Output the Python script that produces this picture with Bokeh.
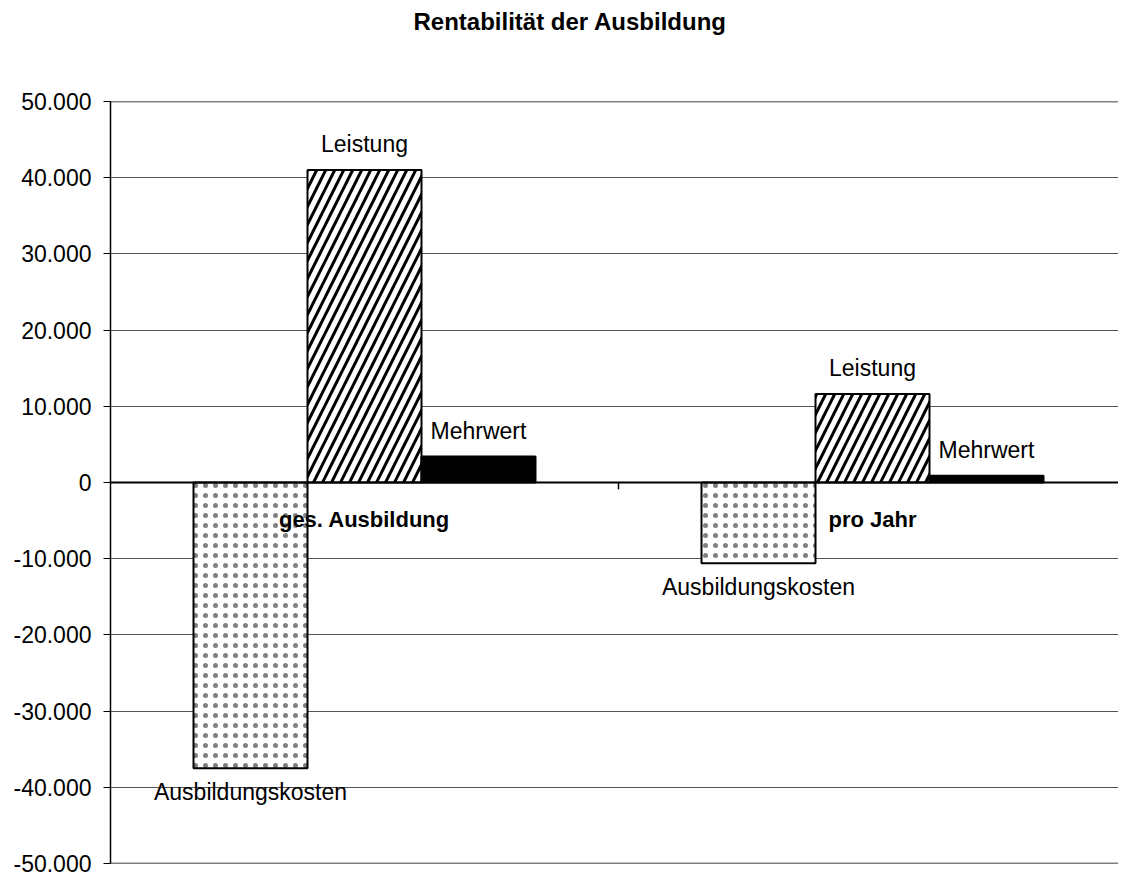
from bokeh.plotting import figure
from bokeh.models import Range1d, FixedTicker, CustomJSTickFormatter, Span, ColumnDataSource, Title
from bokeh.embed import file_html
from bokeh.resources import INLINE
from bokeh.core.properties import value

# ---- data ----
title_text = "Rentabilität der Ausbildung"
categories = ["ges. Ausbildung", "pro Jahr"]
series = ["Ausbildungskosten", "Leistung", "Mehrwert"]
ausbildungskosten = [-37500, -10600]
leistung = [41000, 11600]
mehrwert = [3400, 900]
y_ticks = [-50000, -40000, -30000, -20000, -10000, 0, 10000, 20000, 30000, 40000, 50000]

FONT = "Liberation Sans"
n = len(categories)
bar_w = 0.2244
offsets = [-bar_w, 0.0, bar_w]
values = [ausbildungskosten, leistung, mehrwert]

p = figure(width=1118, height=872, output_backend="svg", toolbar_location=None, title=None,
           x_range=Range1d(0, n * 1008 / 1016), y_range=Range1d(y_ticks[0], y_ticks[-1]),
           min_border_left=110, min_border_right=0, min_border_top=101, min_border_bottom=9)
p.outline_line_color = None
p.background_fill_color = "white"
p.border_fill_color = "white"

# spacer panel (nearest the frame), then the real title above it
p.add_layout(Title(text=" ", text_font=FONT, text_font_size="10px", standoff=51), "above")
p.add_layout(Title(text=title_text, align="left", offset=303, standoff=6, text_font=FONT,
                   text_font_size="24px", text_font_style="bold", text_color="black"), "above")

# axes
p.xaxis.visible = False
p.xgrid.visible = False
p.yaxis.ticker = FixedTicker(ticks=y_ticks)
p.yaxis.formatter = CustomJSTickFormatter(code="""
    const s = Math.abs(tick).toFixed(0).replace(/\\B(?=(\\d{3})+(?!\\d))/g, '.');
    return (tick < 0 ? '-' : '') + s;
""")
p.yaxis.major_label_text_font = FONT
p.yaxis.major_label_text_font_size = "23px"
p.yaxis.major_label_text_color = "black"
p.yaxis.major_tick_in = 0
p.yaxis.major_tick_out = 7
p.yaxis.minor_tick_line_color = None
p.yaxis.major_label_standoff = 12
p.yaxis.axis_line_color = "black"
p.yaxis.axis_line_width = 1.5
p.yaxis.major_tick_line_color = "black"
p.ygrid.ticker = FixedTicker(ticks=y_ticks)
p.ygrid.grid_line_color = "#555555"
p.ygrid.grid_line_width = 1.2
p.ygrid.grid_line_alpha = 1.0

for loc in (y_ticks[0], y_ticks[-1]):
    p.add_layout(Span(location=loc, dimension="width", line_color="black", line_width=1.5))

# bars
styles = [
    dict(fill_color="white", hatch_pattern="dot", hatch_scale=10, hatch_weight=1, hatch_color="#808080"),
    dict(fill_color="white", hatch_pattern="right_diagonal_line", hatch_scale=18, hatch_weight=3, hatch_color="black"),
    dict(fill_color="black"),
]
for s, vals, off, st in zip(series, values, offsets, styles):
    xs = [i + 0.5 + off for i in range(n)]
    src = ColumnDataSource(dict(x=xs, top=vals, bottom=[0] * n))
    p.vbar(x="x", top="top", bottom="bottom", width=bar_w, source=src,
           line_color="black", line_width=2, **st)
    pos = [v >= 0 for v in vals]
    src_pos = ColumnDataSource(dict(x=[x for x, k in zip(xs, pos) if k], y=[v for v, k in zip(vals, pos) if k],
                                    t=[s for k in pos if k]))
    src_neg = ColumnDataSource(dict(x=[x for x, k in zip(xs, pos) if not k], y=[v for v, k in zip(vals, pos) if not k],
                                    t=[s for k in pos if not k]))
    p.text(x="x", y="y", text="t", source=src_pos, text_align="center", text_baseline="alphabetic",
           y_offset=-26, text_font=value(FONT), text_font_size="23px", text_color="black")
    p.text(x="x", y="y", text="t", source=src_neg, text_align="center", text_baseline="top",
           y_offset=11, text_font=value(FONT), text_font_size="23px", text_color="black")

# zero line & category axis
p.add_layout(Span(location=0, dimension="width", line_color="black", line_width=2))
p.segment(x0=list(range(1, n)), y0=[0] * (n - 1), x1=list(range(1, n)), y1=[-900] * (n - 1),
          line_color="black", line_width=1.5)
p.text(x=[i + 0.5 for i in range(n)], y=[0] * n, text=categories, text_align="center",
       text_baseline="top", y_offset=24, text_font=value(FONT), text_font_size="22px",
       text_font_style="bold", text_color="black")

open("out.html", "w").write(file_html(p, INLINE))
